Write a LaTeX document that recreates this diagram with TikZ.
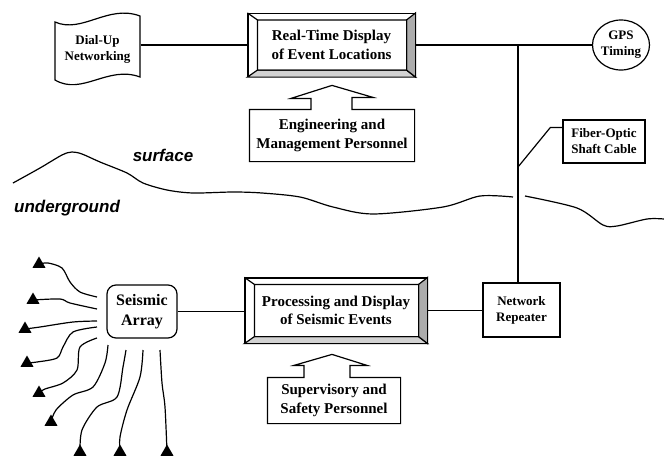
\documentclass[tikz,border=0pt]{standalone}
\usepackage{fontspec}
\setmainfont{Liberation Serif}
\newfontfamily\sansbi{Liberation Sans}
\usetikzlibrary{calc,shapes.geometric}

\tikzset{
  smallbox/.style={draw,align=center,inner sep=0pt,font=\bfseries\fontsize{13}{16}\selectfont},
  bigtext/.style={align=center,inner sep=0pt,font=\bfseries\fontsize{15}{18.5}\selectfont},
  sensor/.style={regular polygon,regular polygon sides=3,fill=black,inner sep=0pt,minimum size=15pt},
  layer/.style={font=\sansbi\bfseries\itshape\fontsize{17}{20}\selectfont}
}

\begin{document}
\begin{tikzpicture}[x=1pt,y=-1pt,line width=1.2pt]
\useasboundingbox (0,0) rectangle (664,461);

% surface part
\node[smallbox,draw=none,minimum width=85pt,minimum height=62pt] (dial) at (97.5,49) {Dial-Up\\Networking};
\draw (55,22) .. controls (82,34) and (108,4) .. (140,16) -- (140,77)
    .. controls (108,65) and (82,96) .. (55,80) -- cycle;
\node[bigtext,draw,minimum width=167pt,minimum height=63pt] (rtd) at (331.5,45) {Real-Time Display\\of Event Locations};
\node[smallbox,ellipse,minimum width=57pt,minimum height=50pt] (gps) at (621,45) {GPS\\Timing};
\node[smallbox,minimum width=82pt,minimum height=43pt] (fiber) at (604,141.5) {Fiber-Optic\\Shaft Cable};
\node[bigtext,minimum width=164pt,minimum height=51pt] (eng) at (332,135.5) {Engineering and\\Management Personnel};

% underground part
\node[smallbox,rounded corners=9pt,minimum width=70pt,minimum height=53pt,font=\bfseries\fontsize{16}{20}\selectfont] (sa) at (142,311.5) {Seismic\\Array};
\node[bigtext,draw,minimum width=182pt,minimum height=65pt] (pde) at (336,310.5) {Processing and Display\\of Seismic Events};
\node[smallbox,minimum width=77pt,minimum height=54pt] (rep) at (521.5,310) {Network\\Repeater};
\node[bigtext,minimum width=132pt,minimum height=45pt] (sup) at (334,400.5) {Supervisory and\\Safety Personnel};

% bevels
\foreach \n in {rtd,pde}
{
    \coordinate (\n-nw) at ($(\n.north west)+(10,7)$);
    \coordinate (\n-ne) at ($(\n.north east)+(-9,7)$);
    \coordinate (\n-se) at ($(\n.south east)+(-9,-7)$);
    \coordinate (\n-sw) at ($(\n.south west)+(10,-7)$);
    \filldraw[fill=gray!35] (\n.south west) -- (\n.south east) -- (\n-se) -- (\n-sw) -- cycle;
    \filldraw[fill=gray!65] (\n.south east) -- (\n.north east) -- (\n-ne) -- (\n-se) -- cycle;
    \draw (\n.north west) -- (\n-nw) (\n-nw) rectangle (\n-se);
}

% personnel arrows
\draw (eng.south west) -- (eng.north west) -- ($(eng.north)+(-21,0)$) -- ++(0,-11) -- ($(eng.north)+(-41,-11)$)
    -- ($(eng.north)+(0,-24)$) -- ($(eng.north)+(41,-12)$) -- ($(eng.north)+(20,-12)$) -- ($(eng.north)+(20,0)$)
    -- (eng.north east) -- (eng.south east) -- cycle;
\draw (sup.south west) -- (sup.north west) -- ($(sup.north)+(-30,0)$) -- ++(0,-12) -- ($(sup.north)+(-40,-12)$)
    -- ($(sup.north)+(-2,-23)$) -- ($(sup.north)+(33,-12)$) -- ($(sup.north)+(16,-12)$) -- ($(sup.north)+(16,0)$)
    -- (sup.north east) -- (sup.south east) -- cycle;

% links
\coordinate (tap) at (518,45);
\coordinate (kink) at (518,167);
\draw (rtd.west -| dial.east) -- (rtd.west);
\draw (rtd.east) -- (gps.west);
\draw (tap) -- (tap |- rep.north);
\draw ($(fiber.north west)+(0,8)$) -- ++(-12,0) -- (kink);
\draw (sa.east) -- (sa.east -| pde.west);
\draw (pde.east) -- (pde.east -| rep.west);

% ground line
\draw plot[smooth] coordinates {(13,183) (40,168) (62,155) (72,152) (82,154) (100,162) (127,173) (143,183) (167,190) (193,193) (233,192) (262,193) (300,197) (333,207) (373,214) (443,207) (480,196) (513,197)};
\draw plot[smooth] coordinates {(525,196) (577,208) (603,225) (617,226) (647,219) (664,219)};
\node[layer] (surf) at (163,155) {surface};
\node[layer] (under) at (67,208) {underground};

% sensors
\foreach \i/\x/\y in {1/39/264,2/33/300,3/25/329,4/27/363,5/39/393,6/51/422,7/80/452,8/120/452,9/167/452}
{
    \node[sensor] (s\i) at (\x,\y) {};
}
\draw plot[smooth] coordinates {(97,297) (80,292) (70,282) (62,268) (48,263) (s1)};
\draw plot[smooth] coordinates {(97,309) (70,303) (60,299) (s2)};
\draw plot[smooth] coordinates {(97,321) (73,322) (40,327) (s3)};
\draw plot[smooth] coordinates {(97,327) (73,332) (63,347) (57,358) (37,362) (s4)};
\draw plot[smooth] coordinates {(97,338) (80,347) (77,370) (63,383) (45,389) (s5)};
\draw plot[smooth] coordinates {(108,345) (105,363) (93,387) (73,395) (56,410) (s6)};
\draw plot[smooth] coordinates {(126,350) (123,367) (117,397) (97,407) (82,430) (s7)};
\draw plot[smooth] coordinates {(143,350) (140,377) (127,410) (120,437) (s8)};
\draw plot[smooth] coordinates {(160,350) (162,383) (165,407) (s9)};
\end{tikzpicture}
\end{document}
